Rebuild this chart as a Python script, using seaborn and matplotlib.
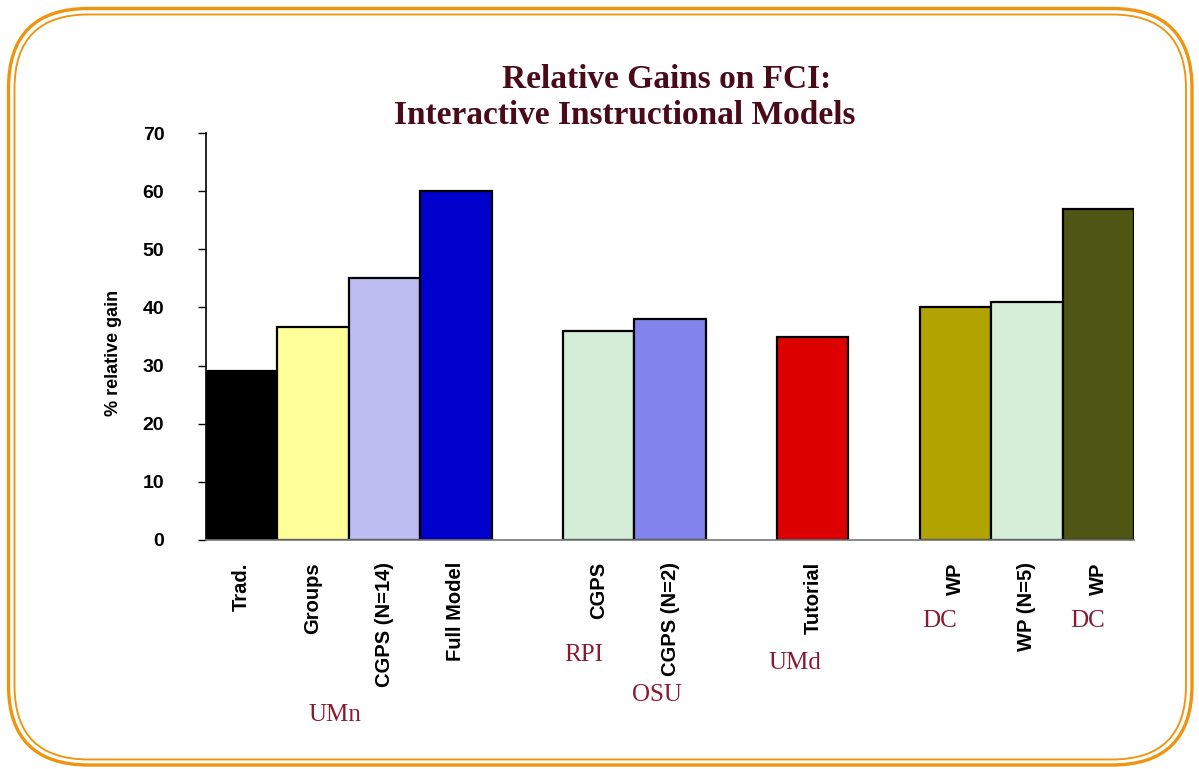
import pandas as pd
import numpy as np
import matplotlib
matplotlib.use("Agg")
import matplotlib.pyplot as plt
import seaborn as sns
from matplotlib.patches import FancyBboxPatch
from matplotlib.transforms import IdentityTransform

# ---- data ----
labels = ["Trad.", "Groups", "CGPS (N=14)", "Full Model",
          "CGPS", "CGPS (N=2)",
          "Tutorial",
          "WP", "WP (N=5)", "WP"]
studies = ["UMn", "UMn", "UMn", "UMn",
           "RPI/OSU", "RPI/OSU",
           "UMd",
           "DC", "DC", "DC"]
gains = [29, 36.7, 45, 60, 36, 38, 35, 40, 41, 57]
bar_colors = ["#000000", "#FFFF99", "#BDBDF2", "#0000CC",
              "#D3EDD6", "#8383EE", "#DD0000",
              "#B3A300", "#D6EED8", "#4F5512"]

# institution notes under the bars: text, x (px), y (px)
inst_notes = [("UMn", 335, 715), ("RPI", 584, 655), ("OSU", 657, 695),
              ("UMd", 795, 663), ("DC", 940, 621), ("DC", 1088, 621)]

# build category order with an empty slot between studies
keys = [f"{lab}|{i}" for i, lab in enumerate(labels)]
order, tick_text = [], []
for i, k in enumerate(keys):
    if i > 0 and studies[i] != studies[i - 1]:
        order.append(f"gap{i}")
        tick_text.append("")
    order.append(k)
    tick_text.append(labels[i])

df = pd.DataFrame({"key": keys, "gain": gains})
palette = dict(zip(keys, bar_colors))

W, H = 1199, 769
fig = plt.figure(figsize=(W / 100, H / 100), dpi=100)
ax = fig.add_axes([206 / W, 1 - 540 / H, 928 / W, 407 / H])

sns.barplot(data=df, x="key", y="gain", hue="key", order=order,
            palette=palette, saturation=1, width=1.0, legend=False,
            edgecolor="black", linewidth=1.6, ax=ax)

ax.set_xlim(-0.5, len(order) - 0.5)
ax.set_ylim(0, 70)
ax.set_yticks(range(0, 71, 10))
ax.set_xticks(range(len(order)))
ax.set_xticklabels(tick_text, rotation=90, va="top", ha="center",
                   fontsize=14.5, fontweight="bold", family="Liberation Sans")
for t in ax.get_yticklabels():
    t.set_fontsize(14)
    t.set_fontweight("bold")
    t.set_family("Liberation Sans")
ax.tick_params(axis="x", length=0, pad=16)
ax.tick_params(axis="y", length=6, width=1, pad=24, direction="out")
ax.set_xlabel("")
ax.set_ylabel("% relative gain", fontsize=13, fontweight="bold",
              family="Liberation Sans")
ax.yaxis.set_label_coords(-84 / 928, 0.46)
for s in ["top", "right"]:
    ax.spines[s].set_visible(False)
ax.spines["left"].set_linewidth(1.2)
ax.spines["bottom"].set_color("#777777")
ax.spines["bottom"].set_linewidth(1.2)

fig.text(667 / W, 1 - 80 / H, "Relative Gains on FCI:", ha="center", va="center",
         fontsize=24, fontweight="bold", family="Liberation Serif", color="#4A0A18")
fig.text(625 / W, 1 - 116 / H, "Interactive Instructional Models", ha="center",
         va="center", fontsize=24, fontweight="bold", family="Liberation Serif",
         color="#4A0A18")

for txt, x, y in inst_notes:
    fig.text(x / W, 1 - y / H, txt, ha="center", va="center", fontsize=18,
             family="Liberation Serif", color="#8B1A30")

# rounded double orange frame
orange = "#F0930F"
for x0, y0, x1, y1, lw in [(8.5, 8.5, 1192, 765, 3.2), (14.5, 14.5, 1186, 759.5, 1.8)]:
    r = 80 - (x0 - 8.5)
    box = FancyBboxPatch((x0 + r, H - y1 + r), (x1 - x0) - 2 * r, (y1 - y0) - 2 * r,
                         boxstyle=f"round,pad={r}", transform=IdentityTransform(),
                         fill=False, edgecolor=orange, linewidth=lw * 0.75)
    fig.patches.append(box)

fig.savefig("out.png", dpi=100)
